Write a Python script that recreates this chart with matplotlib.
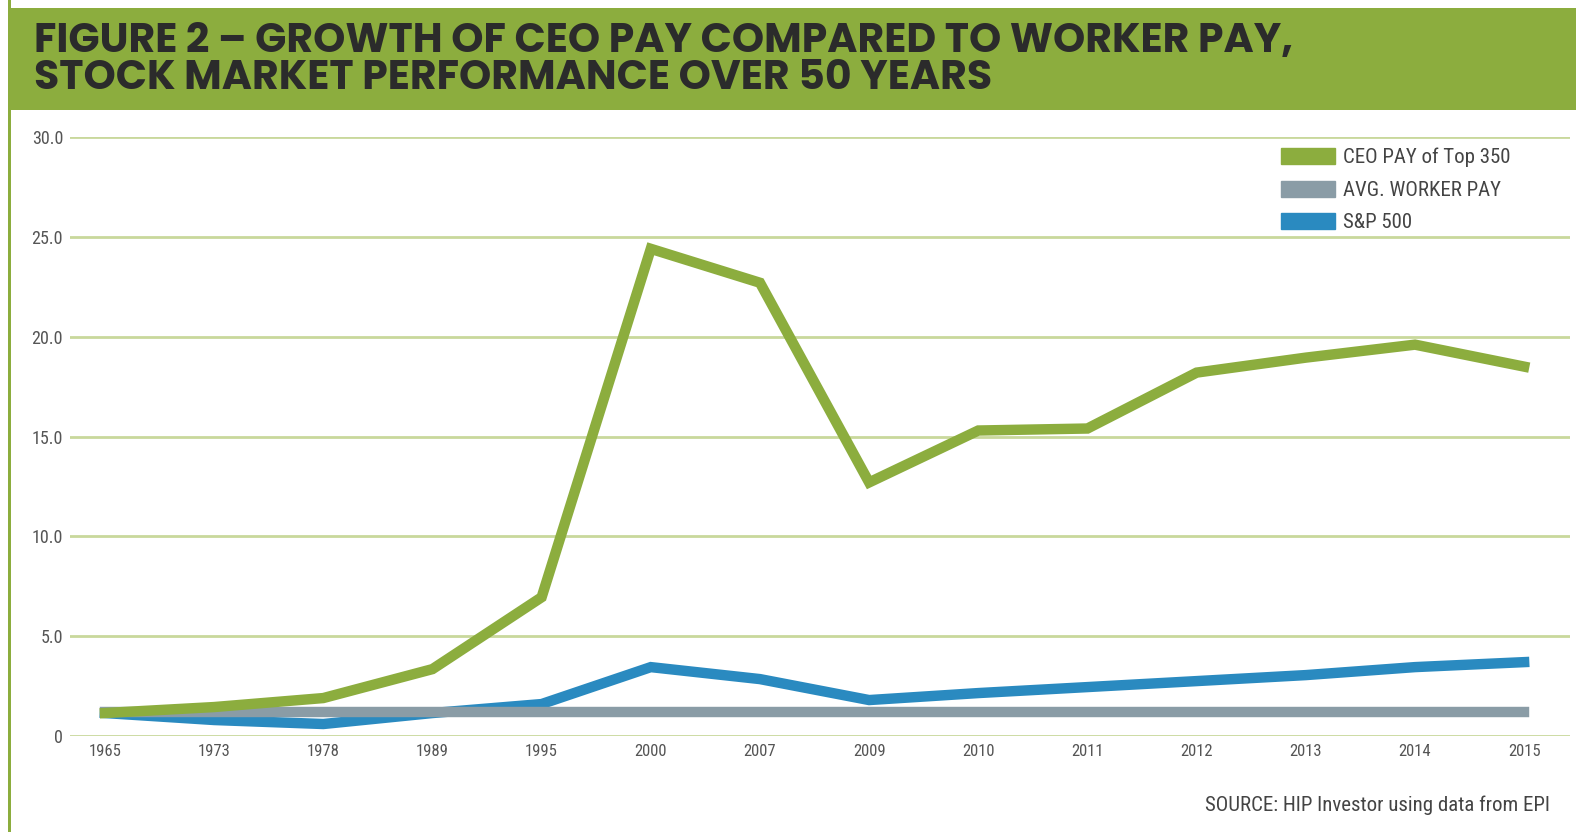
import matplotlib.pyplot as plt
from matplotlib.patches import Patch, Rectangle

years = ['1965', '1973', '1978', '1989', '1995', '2000', '2007', '2009',
         '2010', '2011', '2012', '2013', '2014', '2015']
ceo_pay = [1.15, 1.45, 1.9, 3.35, 6.95, 24.4, 22.7, 12.7, 15.3, 15.4, 18.2, 18.95, 19.6, 18.5]
worker_pay = [1.2] * 14
sp500 = [1.15, 0.8, 0.6, 1.15, 1.6, 3.45, 2.85, 1.8, 2.15, 2.45, 2.75, 3.05, 3.45, 3.7]
y_ticks = [0, 5, 10, 15, 20, 25, 30]
y_labels = ['0', '5.0', '10.0', '15.0', '20.0', '25.0', '30.0']

green = '#8cad3e'
gray = '#8a9ca6'
blue = '#2a8ac0'
grid_col = '#c9d89c'
txt_col = '#555555'
narrow = ['Roboto Condensed', 'Archivo Narrow', 'DejaVu Sans']
heading = ['Poppins', 'Lato', 'DejaVu Sans']

W, H = 1576, 832
fig = plt.figure(figsize=(W / 100, H / 100), dpi=100)
fig.patch.set_facecolor('white')

# header band and left border
fig.patches.append(Rectangle((8 / W, 1 - 110 / H), 1, 102 / H, transform=fig.transFigure,
                             facecolor=green, edgecolor='none', zorder=0))
fig.patches.append(Rectangle((8 / W, 0), 3 / W, 1, transform=fig.transFigure,
                             facecolor=green, edgecolor='none', zorder=0))
fig.text(34 / W, 1 - 61 / H, 'FIGURE 2 – GROWTH OF CEO PAY COMPARED TO WORKER PAY,\nSTOCK MARKET PERFORMANCE OVER 50 YEARS',
         fontsize=29.5, fontweight='bold', color='#2b2b2b', family=heading,
         va='center', ha='left', linespacing=0.86)

ax = fig.add_axes([70 / W, 96 / H, (1570 - 70) / W, (736 - 137) / H])
ax.set_facecolor('none')
x = list(range(len(years)))
ax.plot(x, sp500, color=blue, lw=7.5, solid_joinstyle='miter', zorder=2)
ax.plot(x, worker_pay, color=gray, lw=7.5, zorder=3)
ax.plot(x, ceo_pay, color=green, lw=7.5, solid_joinstyle='miter', zorder=4)

ax.set_xlim(-0.32, 13.42)
ax.set_ylim(0, 30)
ax.set_yticks(y_ticks)
ax.set_yticklabels(y_labels)
ax.set_xticks(x)
ax.set_xticklabels(years)
ax.grid(axis='y', color=grid_col, lw=2, zorder=1)
ax.grid(axis='x', visible=False)
for s in ax.spines.values():
    s.set_visible(False)
ax.tick_params(axis='both', length=0, colors=txt_col)
ax.tick_params(axis='y', pad=5)
ax.tick_params(axis='x', pad=6)
for lab in ax.get_yticklabels():
    lab.set_family(narrow)
    lab.set_fontsize(13)
for lab in ax.get_xticklabels():
    lab.set_family(narrow)
    lab.set_fontsize(12)

handles = [Patch(color=green, label='CEO PAY of Top 350'),
           Patch(color=gray, label='AVG. WORKER PAY'),
           Patch(color=blue, label='S&P 500')]
leg = fig.legend(handles=handles, loc='upper left', bbox_to_anchor=(1262 / W, 1 - 129 / H),
                 frameon=False, prop={'family': narrow, 'size': 15},
                 handlelength=2.6, handleheight=0.8, handletextpad=0.4, labelspacing=0.64)
for t in leg.get_texts():
    t.set_color('#444444')

fig.text(1550 / W, 1 - 805 / H, 'SOURCE: HIP Investor using data from EPI', ha='right', va='center',
         fontsize=15, color='#444444', family=narrow)

fig.savefig('out.png', dpi=100)
